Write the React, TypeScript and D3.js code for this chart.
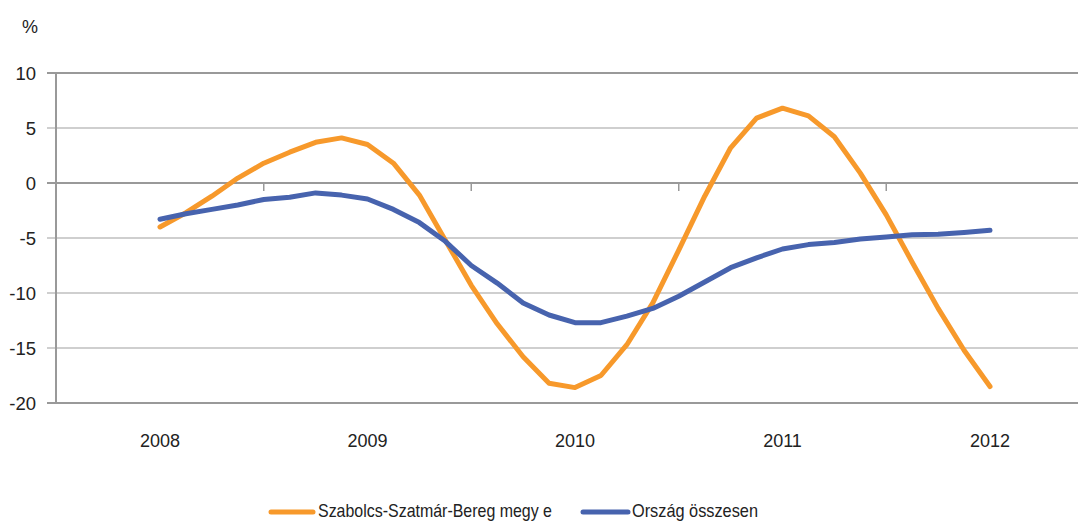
import React from "react";
import * as d3 from "d3";

const yearLabels = ["2008", "2009", "2010", "2011", "2012"];
const yTicks = [10, 5, 0, -5, -10, -15, -20];
const seriesNames = ["Szabolcs-Szatmár-Bereg megy e", "Ország összesen"];
const szabolcs = [
  -4.0, -2.7, -1.2, 0.45, 1.8, 2.8, 3.7, 4.1, 3.5, 1.8, -1.1, -5.2, -9.3, -12.8, -15.8, -18.2,
  -18.6, -17.5, -14.7, -10.9, -6.1, -1.2, 3.2, 5.9, 6.8, 6.1, 4.2, 0.9, -2.9, -7.2, -11.4, -15.2, -18.5,
];
const orszag = [
  -3.3, -2.8, -2.4, -2.0, -1.5, -1.3, -0.9, -1.1, -1.45, -2.4, -3.6, -5.3, -7.5, -9.1, -10.9, -12.0,
  -12.7, -12.7, -12.1, -11.4, -10.3, -9.0, -7.7, -6.8, -6.0, -5.6, -5.4, -5.1, -4.9, -4.7, -4.65, -4.5, -4.3,
];
const colors = ["#F7992B", "#4763AE"];
const pointsPerYear = 8;

export default function App() {
  const W = 1078, H = 521;
  const x = d3.scaleLinear().domain([0, 32]).range([160, 990]);
  const y = d3.scaleLinear().domain([-20, 10]).range([403, 73]);
  const left = 56, right = 1078;
  const line = d3.line<number>().x((_, i) => x(i)).y((d) => y(d));
  const font = "'Liberation Sans', Arial, sans-serif";
  const dark = new Set([10, 0, -20]);
  const midTicks = [0.5, 1.5, 2.5, 3.5].map((k) => x(k * pointsPerYear));
  const legend = [
    { x1: 271, x2: 313, tx: 318, len: 234 },
    { x1: 583, x2: 628, tx: 632, len: 126 },
  ];
  return (
    <svg width={W} height={H} style={{ position: "absolute", left: 0, top: 0, background: "#fff" }} fontFamily={font}>
      <text x={30} y={33} fontSize={18} textAnchor="middle" fill="#222">%</text>
      {yTicks.map((t) => (
        <g key={t}>
          <line x1={47} x2={right} y1={y(t)} y2={y(t)} stroke={dark.has(t) ? "#999" : "#cfcfcf"} strokeWidth={dark.has(t) ? 2 : 1.8} />
          <text x={36} y={y(t) + 6.5} fontSize={18.5} textAnchor="end" fill="#222">{t}</text>
        </g>
      ))}
      <line x1={left} x2={left} y1={y(10)} y2={y(-20)} stroke="#999" strokeWidth={2} />
      {midTicks.map((mx, i) => (
        <line key={i} x1={mx} x2={mx} y1={y(0)} y2={y(0) + 8} stroke="#999" strokeWidth={1.5} />
      ))}
      {yearLabels.map((lab, i) => (
        <text key={lab} x={x(i * pointsPerYear)} y={447} fontSize={18} textAnchor="middle" fill="#222">{lab}</text>
      ))}
      {[szabolcs, orszag].map((s, i) => (
        <path key={i} d={line(s) || ""} fill="none" stroke={colors[i]} strokeWidth={5} strokeLinejoin="round" strokeLinecap="round" />
      ))}
      {legend.map((l, i) => (
        <g key={i}>
          <line x1={l.x1} x2={l.x2} y1={512} y2={512} stroke={colors[i]} strokeWidth={5} strokeLinecap="round" />
          <text x={l.tx} y={517} fontSize={18.5} fill="#222" textLength={l.len} lengthAdjust="spacingAndGlyphs">{seriesNames[i]}</text>
        </g>
      ))}
    </svg>
  );
}
